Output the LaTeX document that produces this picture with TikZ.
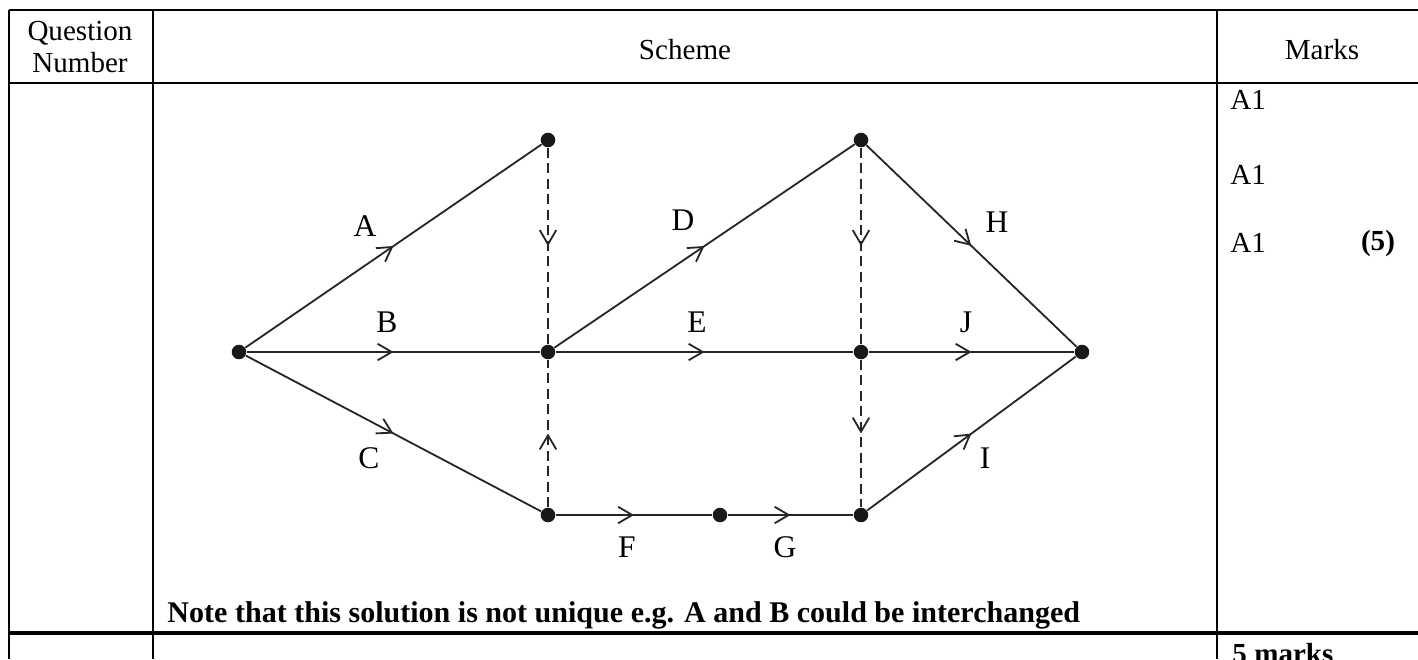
\documentclass[tikz,border=0pt]{standalone}
\usepackage{fontspec}
\setmainfont{Liberation Serif}
\usepackage{tikz}
\usetikzlibrary{
  arrows.meta,
  decorations.markings
}
\tikzset{
  rule/.style={line width=1pt,draw=black},
  vtx/.style={circle,fill=black!90,inner sep=0pt,minimum size=6pt},
  act/.style={line width=0.75pt,draw=black!85,
    postaction={decorate},
    decoration={markings,mark=at position 0.5 with
      {\arrow{Straight Barb[length=5.8pt,width=6.8pt,line width=0.75pt]}}}},
  dummy/.style={act,line width=0.85pt,dash pattern=on 4.2pt off 2.2pt},
  lbl/.style={font=\fontsize{13}{15}\selectfont,inner sep=0pt},
  cell/.style={font=\fontsize{12}{13.5}\selectfont,align=center,inner sep=0pt}
}

\begin{document}
\begin{tikzpicture}[x=0.4127pt,y=-0.4127pt]
  \clip (0,0) rectangle (1418,659);
  \useasboundingbox (0,0) rectangle (1418,659);

  % table rules
  \draw[rule] (9,10) -- (1418,10);
  \draw[rule] (9,83) -- (1418,83);
  \draw[rule,line width=1.3pt] (9,633) -- (1418,633);
  \draw[rule] (9,10) -- (9,659);
  \draw[rule] (153,10) -- (153,659);
  \draw[rule] (1217,10) -- (1217,659);

  % headings and marks
  \node[cell] (hq) at (80,47) {Question\\Number};
  \node[cell] (hs) at (685,50) {Scheme};
  \node[cell] (hm) at (1322,50) {Marks};
  \node[cell,anchor=west] (m1) at (1230,100) {A1};
  \node[cell,anchor=west] (m2) at (1230,175) {A1};
  \node[cell,anchor=west] (m3) at (1230,243) {A1};
  \node[cell] (m4) at (1378,243) {\textbf{(5)}};
  \node[cell,anchor=west,font=\fontsize{12.4}{14}\selectfont] (note) at (167,615)
    {\textbf{Note that this solution is not unique e.g. A and B could be interchanged}};
  \node[cell,anchor=north west] (tot) at (1232,643) {\textbf{5 marks}};

  % activity network
  \node[vtx] (s)  at (239,352) {};
  \node[vtx] (t1) at (548,140) {};
  \node[vtx] (c1) at (548,352) {};
  \node[vtx] (b1) at (548,515) {};
  \node[vtx] (bm) at (720,515) {};
  \node[vtx] (b2) at (861,515) {};
  \node[vtx] (c2) at (861,352) {};
  \node[vtx] (t2) at (861,140) {};
  \node[vtx] (e)  at (1082,352) {};

  \draw[act] (s) -- (t1);
  \draw[act] (s) -- (c1);
  \draw[act] (s) -- (b1);
  \draw[act] (c1) -- (t2);
  \draw[act] (c1) -- (c2);
  \draw[act] (b1) -- (bm);
  \draw[act] (bm) -- (b2);
  \draw[act] (t2) -- (e);
  \draw[act] (c2) -- (e);
  \draw[act] (b2) -- (e);
  \draw[dummy] (t1) -- (c1);
  \draw[dummy] (b1) -- (c1);
  \draw[dummy] (t2) -- (c2);
  \draw[dummy] (c2) -- (b2);

  \node[lbl] (la) at (365,226) {A};
  \node[lbl] (lb) at (387,322) {B};
  \node[lbl] (lc) at (369,458) {C};
  \node[lbl] (ld) at (683,220) {D};
  \node[lbl] (le) at (697,322) {E};
  \node[lbl] (lf) at (627,547) {F};
  \node[lbl] (lg) at (785,547) {G};
  \node[lbl] (lh) at (997,222) {H};
  \node[lbl] (li) at (985,458) {I};
  \node[lbl] (lj) at (966,322) {J};
\end{tikzpicture}
\end{document}
